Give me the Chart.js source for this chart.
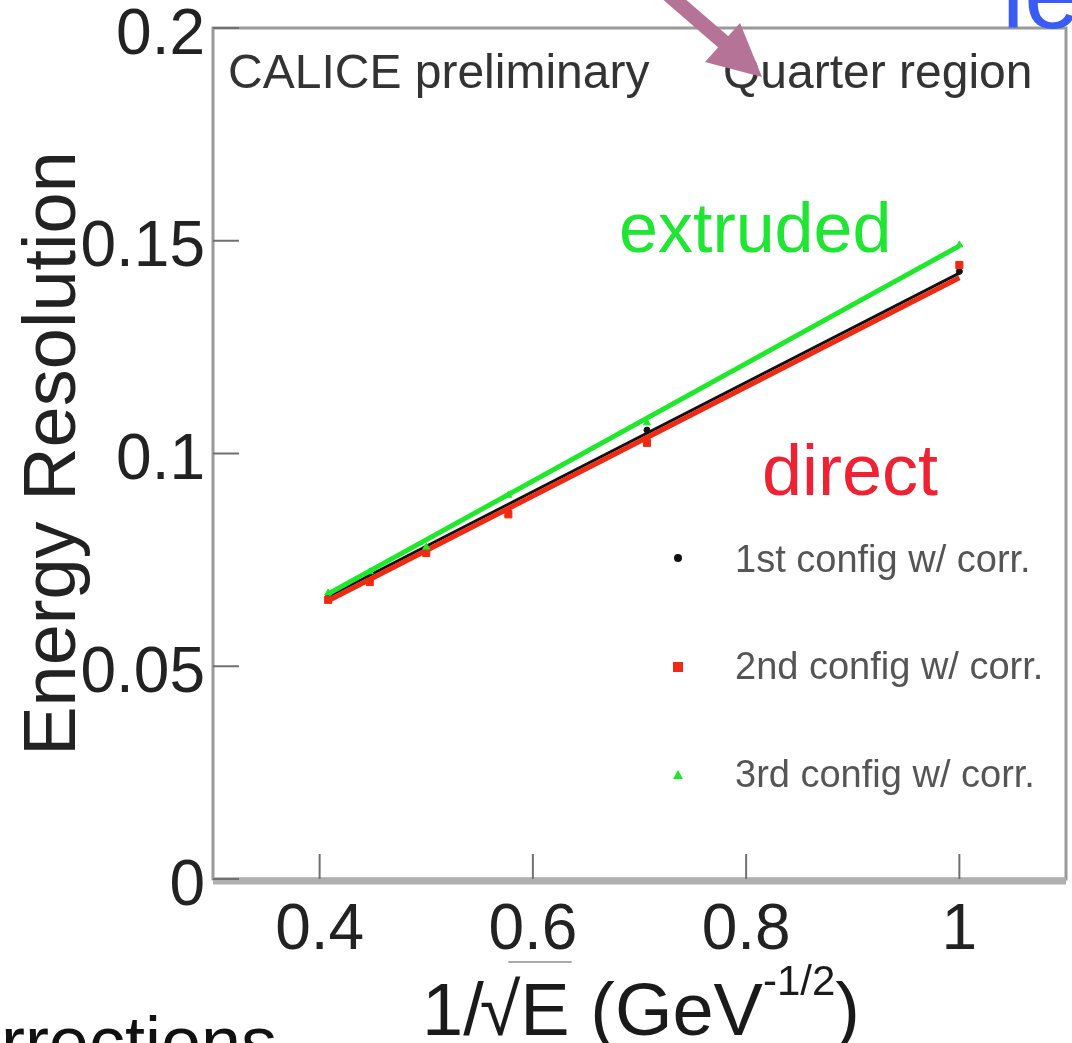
<!DOCTYPE html>
<html>
<head>
<meta charset="utf-8">
<script src="https://cdn.jsdelivr.net/npm/chart.js@4.4.1/dist/chart.umd.min.js"></script>
<style>
html, body { margin: 0; padding: 0; background: #fff; }
#wrap { width: 1072px; height: 1043px; position: relative; }
</style>
</head>
<body>
<div id="wrap"><canvas id="plot"></canvas></div>
<script>
// 1/sqrt(E) points (E = 6,5,4,3,2,1 GeV)
var xValues = [0.408, 0.447, 0.5, 0.577, 0.707, 1.0];
var config1 = [0.0662, 0.0702, 0.0771, 0.0862, 0.1055, 0.1428];
var config2 = [0.0656, 0.0698, 0.0766, 0.0857, 0.1025, 0.1443];
var config3 = [0.0672, 0.0722, 0.0780, 0.0902, 0.1072, 0.1490];

// fitted lines, read at both ends
var fitX = [0.408, 1.0];
var fit1 = [0.0664, 0.1424];
var fit2 = [0.0654, 0.1413];
var fit3 = [0.0670, 0.1488];

var seriesLabels = ["1st config w/ corr.", "2nd config w/ corr.", "3rd config w/ corr."];
var seriesColors = ["#111111", "#f02a12", "#1ee82a"];

var xTicks = [0.4, 0.6, 0.8, 1];
var yTicks = [0, 0.05, 0.1, 0.15, 0.2];

function pts(xs, ys) {
    return xs.map(function (x, i) { return {x: x, y: ys[i]}; });
}

var FONT = '"Liberation Sans", Arial, sans-serif';

var decor = {
    id: 'decor',
    afterDraw: function (chart) {
        var ctx = chart.ctx;
        var a = chart.chartArea;
        var sx = chart.scales.x, sy = chart.scales.y;
        ctx.save();

        // frame
        ctx.strokeStyle = '#9a9a9a';
        ctx.lineWidth = 3;
        ctx.strokeRect(a.left, a.top, a.right - a.left, a.bottom - a.top);
        ctx.strokeStyle = '#b0b0b0';
        ctx.lineWidth = 7;
        ctx.beginPath();
        ctx.moveTo(a.left, a.bottom + 2);
        ctx.lineTo(a.right, a.bottom + 2);
        ctx.stroke();

        // inward ticks
        ctx.strokeStyle = '#707070';
        ctx.lineWidth = 2;
        xTicks.forEach(function (v) {
            var px = sx.getPixelForValue(v);
            ctx.beginPath();
            ctx.moveTo(px, a.bottom);
            ctx.lineTo(px, a.bottom - 25);
            ctx.stroke();
        });
        yTicks.forEach(function (v) {
            var py = sy.getPixelForValue(v);
            ctx.beginPath();
            ctx.moveTo(a.left, py);
            ctx.lineTo(a.left + 26, py);
            ctx.stroke();
        });

        // header texts
        ctx.fillStyle = '#333';
        ctx.font = '48px ' + FONT;
        ctx.textBaseline = 'alphabetic';
        ctx.textAlign = 'left';
        ctx.fillText('CALICE preliminary', 228, 88);
        ctx.fillText('Quarter region', 723, 88);

        // legend
        var ly = [558, 667, 775];
        var tb = [572, 679, 787];
        ctx.font = '38px ' + FONT;
        for (var i = 0; i < 3; i++) {
            ctx.fillStyle = seriesColors[i];
            ctx.beginPath();
            if (i === 0) {
                ctx.arc(678, ly[i], 4, 0, Math.PI * 2);
            } else if (i === 1) {
                ctx.rect(673, ly[i] - 5, 10, 10);
            } else {
                ctx.moveTo(678, ly[i] - 5);
                ctx.lineTo(683, ly[i] + 4);
                ctx.lineTo(673, ly[i] + 4);
                ctx.closePath();
            }
            ctx.fill();
            ctx.fillStyle = '#555';
            ctx.fillText(seriesLabels[i], 735, tb[i]);
        }

        // annotations
        ctx.font = '70px ' + FONT;
        ctx.fillStyle = '#1ee632';
        ctx.fillText('extruded', 619, 252);
        ctx.font = '72px ' + FONT;
        ctx.fillStyle = '#ee2233';
        ctx.fillText('direct', 762, 495);

        // x title with sqrt and superscript
        var bx = 422, by = 1035;
        ctx.fillStyle = '#1a1a1a';
        ctx.font = '74px ' + FONT;
        ctx.fillText('1/', bx, by);
        bx += ctx.measureText('1/').width;
        ctx.fillText('\u221A', bx - 4, by);
        bx += ctx.measureText('\u221A').width - 4;
        var eStart = bx;
        ctx.fillText('E', bx, by);
        bx += ctx.measureText('E').width;
        ctx.strokeStyle = '#aaa';
        ctx.lineWidth = 2;
        ctx.beginPath();
        ctx.moveTo(eStart - 12, 962);
        ctx.lineTo(bx + 2, 962);
        ctx.stroke();
        ctx.fillText(' (GeV', bx, by);
        bx += ctx.measureText(' (GeV').width;
        ctx.font = '42px ' + FONT;
        ctx.fillText('-1/2', bx, 995);
        bx += ctx.measureText('-1/2').width;
        ctx.font = '74px ' + FONT;
        ctx.fillText(')', bx, by);

        // slide fragments around the plot
        ctx.fillStyle = '#111';
        ctx.font = '72px ' + FONT;
        ctx.textAlign = 'right';
        ctx.fillText('corrections', 277, 1067);
        ctx.textAlign = 'left';
        ctx.fillStyle = '#3a5cf5';
        ctx.font = '100px ' + FONT;
        ctx.fillText('le', 1002, 28);

        // arrow
        ctx.strokeStyle = '#b57397';
        ctx.fillStyle = '#b57397';
        ctx.lineWidth = 15;
        ctx.beginPath();
        ctx.moveTo(668, -6);
        ctx.lineTo(735, 52);
        ctx.stroke();
        ctx.beginPath();
        ctx.moveTo(762, 77);
        ctx.lineTo(705, 62);
        ctx.lineTo(740, 23);
        ctx.closePath();
        ctx.fill();

        ctx.restore();
    }
};

new Chart(document.getElementById('plot'), {
    type: 'scatter',
    data: {
        datasets: [
            {label: 'fit3', data: pts(fitX, fit3), showLine: true, borderColor: seriesColors[2], borderWidth: 5, pointRadius: 0, order: 1},
            {label: seriesLabels[2], data: pts(xValues, config3), pointStyle: 'triangle', pointRadius: 4, backgroundColor: seriesColors[2], borderColor: seriesColors[2], order: 0},
            {label: 'fit2', data: pts(fitX, fit2), showLine: true, borderColor: seriesColors[1], borderWidth: 5, pointRadius: 0, order: 3},
            {label: seriesLabels[1], data: pts(xValues, config2), pointStyle: 'rect', pointRadius: 5, backgroundColor: seriesColors[1], borderColor: seriesColors[1], order: 2},
            {label: 'fit1', data: pts(fitX, fit1), showLine: true, borderColor: seriesColors[0], borderWidth: 3, pointRadius: 0, order: 5},
            {label: seriesLabels[0], data: pts(xValues, config1), pointStyle: 'circle', pointRadius: 3, backgroundColor: seriesColors[0], borderColor: seriesColors[0], order: 4}
        ]
    },
    options: {
        responsive: true,
        maintainAspectRatio: false,
        animation: false,
        layout: {padding: {top: 28, right: 4, left: 0, bottom: 0}},
        plugins: {
            legend: {display: false},
            tooltip: {enabled: false}
        },
        scales: {
            x: {
                type: 'linear',
                min: 0.3,
                max: 1.1,
                afterBuildTicks: function (s) { s.ticks = xTicks.map(function (v) { return {value: v}; }); },
                afterFit: function (s) { s.height = 164; s.paddingLeft = 0; s.paddingRight = 0; },
                grid: {display: false, drawTicks: false},
                border: {display: false},
                ticks: {
                    padding: 14,
                    color: '#222',
                    font: {family: FONT, size: 64},
                    maxRotation: 0,
                    callback: function (v) { return String(v); }
                }
            },
            y: {
                type: 'linear',
                min: 0,
                max: 0.2,
                afterBuildTicks: function (s) { s.ticks = yTicks.map(function (v) { return {value: v}; }); },
                afterFit: function (s) { s.width = 213; s.paddingTop = 0; s.paddingBottom = 0; },
                grid: {display: false, drawTicks: false},
                border: {display: false},
                ticks: {
                    padding: 8,
                    labelOffset: 8,
                    color: '#222',
                    font: {family: FONT, size: 64},
                    callback: function (v) { return String(v); }
                },
                title: {
                    display: true,
                    text: 'Energy Resolution',
                    color: '#222',
                    font: {family: FONT, size: 74, lineHeight: 1},
                    padding: {top: 18, bottom: 0}
                }
            }
        }
    },
    plugins: [decor]
});
</script>
</body>
</html>
